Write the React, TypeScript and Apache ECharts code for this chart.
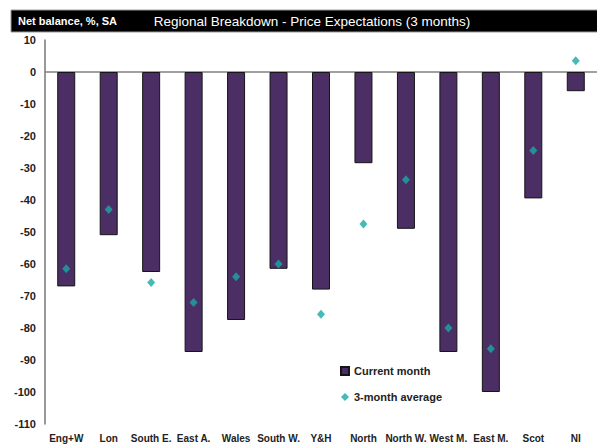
import React, { useEffect, useRef } from "react";
import * as echarts from "echarts";

const categories = ["Eng+W", "Lon", "South E.", "East A.", "Wales", "South W.", "Y&H", "North", "North W.", "West M.", "East M.", "Scot", "NI"];
const currentMonth = [-67, -51, -62.5, -87.5, -77.5, -61.5, -68, -28.5, -49, -87.5, -100, -39.5, -6];
const threeMonthAvg = [-61.5, -43, -65.8, -72, -64, -60, -75.7, -47.5, -33.7, -80, -86.5, -24.5, 3.5];
const yTicks = { min: -110, max: 10, interval: 10 };

const titleText = "Regional Breakdown - Price Expectations (3 months)";
const unitText = "Net balance, %, SA";

export default function App() {
  const ref = useRef<HTMLDivElement>(null);
  useEffect(() => {
    if (!ref.current) return;
    const chart = echarts.init(ref.current, null, { renderer: "svg" });
    const font = "'Liberation Sans', Arial, sans-serif";
    chart.setOption({
      animation: false,
      backgroundColor: "#ffffff",
      textStyle: { fontFamily: font },
      graphic: [
        { type: "rect", shape: { x: 11, y: 10, width: 590, height: 22 }, style: { fill: "#000000", stroke: "#9a9a9a", lineWidth: 1 }, z: 10 },
        { type: "text", x: 18, y: 21, style: { text: unitText, fill: "#ffffff", font: `bold 11px ${font}`, textVerticalAlign: "middle" }, z: 11 },
        { type: "text", x: 312, y: 21, style: { text: titleText, fill: "#ffffff", font: `13.5px ${font}`, textAlign: "center", textVerticalAlign: "middle" }, z: 11 },
      ],
      legend: {
        orient: "vertical",
        left: 335,
        top: 359,
        itemWidth: 8,
        itemHeight: 8,
        itemGap: 12,
        textStyle: { fontFamily: font, fontSize: 11, fontWeight: "bold", color: "#222", lineHeight: 14 },
        data: [
          { name: "Current month", icon: "rect" },
          { name: "3-month average", icon: "diamond" },
        ],
      },
      grid: { left: 45, top: 40, height: 384, width: 554, containLabel: false },
      xAxis: {
        type: "category",
        data: categories,
        axisLine: { show: false },
        axisTick: { show: false },
        axisLabel: { interval: 0, fontFamily: font, fontSize: 10, fontWeight: "bold", color: "#222", margin: 9 },
      },
      yAxis: {
        type: "value",
        min: yTicks.min,
        max: yTicks.max,
        interval: yTicks.interval,
        axisLine: { show: true, lineStyle: { color: "#777", width: 1.5 } },
        axisTick: { show: false },
        splitLine: { show: false },
        axisLabel: { fontFamily: font, fontSize: 11, fontWeight: "bold", color: "#222", margin: 9 },
      },
      series: [
        {
          name: "Current month",
          type: "bar",
          data: currentMonth,
          barWidth: 18,
          itemStyle: { color: "#4b2e63", borderColor: "#151515", borderWidth: 1 },
          markLine: {
            silent: true,
            symbol: "none",
            label: { show: false },
            lineStyle: { color: "#808080", width: 1.5, type: "solid" },
            data: [{ yAxis: 0 }],
            z: 1,
          },
        },
        {
          name: "3-month average",
          type: "scatter",
          data: threeMonthAvg,
          symbol: "diamond",
          symbolSize: [8, 9],
          itemStyle: { color: "#19a9a6" },
          z: 5,
        },
      ],
    });
    return () => chart.dispose();
  }, []);
  return <div ref={ref} style={{ width: 597, height: 444, position: "absolute", left: 0, top: 0 }} />;
}
